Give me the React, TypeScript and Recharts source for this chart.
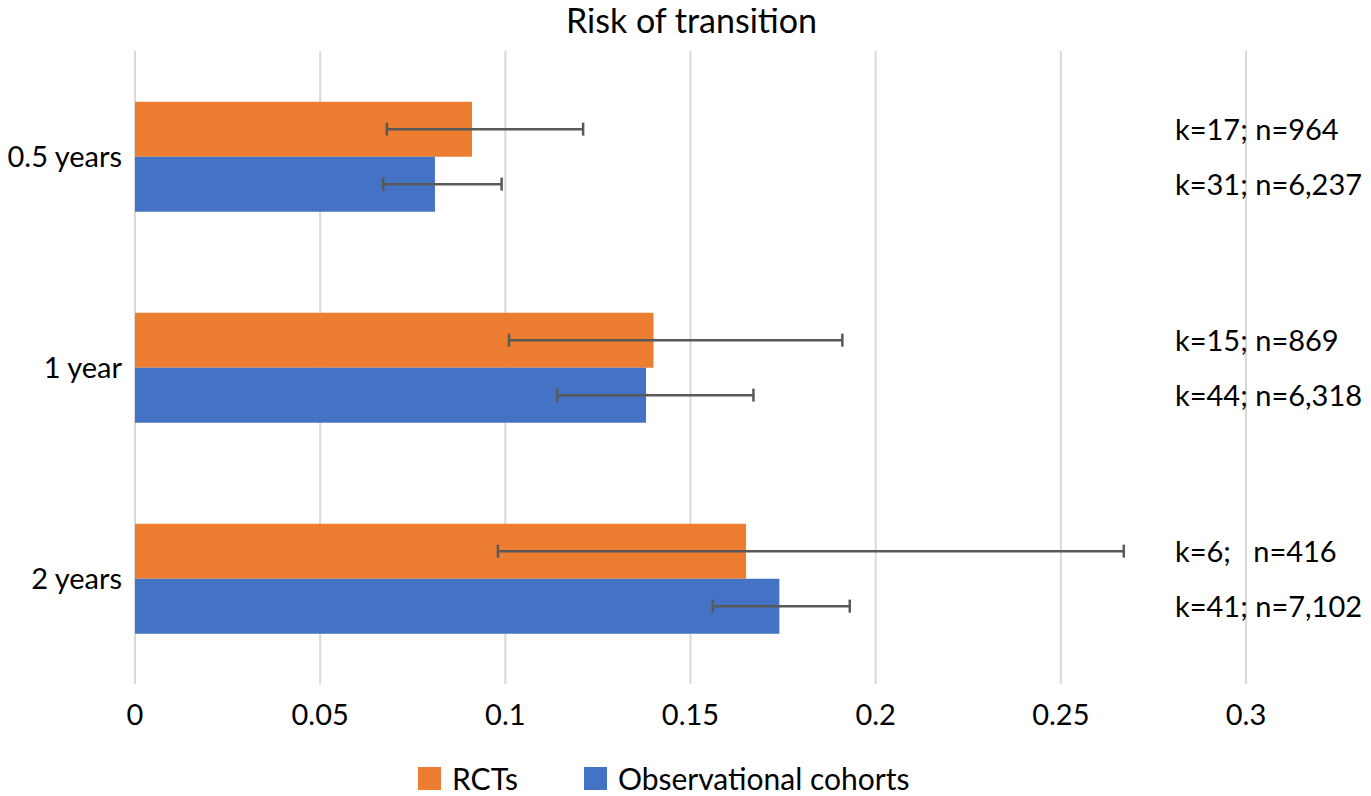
import React from 'react';
import { BarChart, Bar, XAxis, YAxis, CartesianGrid, ErrorBar, LabelList, Legend } from 'recharts';

const categories = ['0.5 years', '1 year', '2 years'];
const rctValues = [0.091, 0.14, 0.165];
const rctLow = [0.068, 0.101, 0.098];
const rctHigh = [0.121, 0.191, 0.267];
const obsValues = [0.081, 0.138, 0.174];
const obsLow = [0.067, 0.114, 0.156];
const obsHigh = [0.099, 0.167, 0.193];
const rctLabels = ['k=17; n=964', 'k=15; n=869', 'k=6;   n=416'];
const obsLabels = ['k=31; n=6,237', 'k=44; n=6,318', 'k=41; n=7,102'];
const xTicks = [0, 0.05, 0.1, 0.15, 0.2, 0.25, 0.3];
const xTickLabels = ['0', '0.05', '0.1', '0.15', '0.2', '0.25', '0.3'];
const legendOrder = ['RCTs', 'Observational cohorts'];

const data = categories.map((c, i) => ({
  period: c,
  rct: rctValues[i],
  rctErr: [rctValues[i] - rctLow[i], rctHigh[i] - rctValues[i]],
  rctLabel: rctLabels[i],
  obs: obsValues[i],
  obsErr: [obsValues[i] - obsLow[i], obsHigh[i] - obsValues[i]],
  obsLabel: obsLabels[i],
}));

const FONT = 'Lato, "Noto Sans", sans-serif';
const W = 1371;
const H = 796;
const LABEL_X = 1175;

const SideLabel = (props: any) => {
  const { y, height, value } = props;
  return (
    <text
      x={LABEL_X}
      y={Number(y) + Number(height) / 2}
      dy="0.36em"
      fontSize={29}
      fontFamily={FONT}
      fill="#000"
      style={{ whiteSpace: 'pre' }}
    >
      {value}
    </text>
  );
};

const LegendContent = (props: any) => {
  const payload = [...(props.payload || [])].sort(
    (a: any, b: any) => legendOrder.indexOf(a.value) - legendOrder.indexOf(b.value)
  );
  return (
    <div
      style={{
        display: 'flex',
        alignItems: 'center',
        height: 62,
        boxSizing: 'border-box',
        paddingTop: 26,
        paddingLeft: 418,
        fontFamily: FONT,
        fontSize: 30,
        color: '#000',
      }}
    >
      {payload.map((p: any, i: number) => (
        <div key={i} style={{ display: 'flex', alignItems: 'center', marginRight: 66 }}>
          <div style={{ width: 23, height: 23, background: p.color, marginRight: 11 }} />
          <span>{p.value}</span>
        </div>
      ))}
    </div>
  );
};

export default function App() {
  return (
    <div style={{ position: 'relative', width: W, height: H, margin: '-8px 0 0 -8px', background: '#fff', overflow: 'hidden' }}>
      <div
        style={{
          position: 'absolute',
          top: 0,
          left: 0,
          width: W,
          paddingLeft: 12,
          boxSizing: 'border-box',
          textAlign: 'center',
          fontFamily: FONT,
          fontSize: 34,
          lineHeight: '40px',
          color: '#000',
        }}
      >
        Risk of transition
      </div>
      <BarChart
        width={W}
        height={H}
        data={data}
        layout="vertical"
        margin={{ top: 51, right: 125, bottom: 0, left: 0 }}
        barCategoryGap="24%"
        barGap={0}
      >
        <CartesianGrid horizontal={false} vertical={true} stroke="#d9d9d9" strokeWidth={2} />
        <XAxis
          type="number"
          domain={[0, 0.3]}
          ticks={xTicks}
          tickFormatter={(v: number) => xTickLabels[xTicks.indexOf(v)] ?? String(v)}
          axisLine={false}
          tickLine={false}
          height={50}
          tickMargin={14}
          tick={{ fontSize: 29, fontFamily: FONT, fill: '#000' }}
          interval={0}
        />
        <YAxis
          type="category"
          dataKey="period"
          width={135}
          axisLine={false}
          tickLine={false}
          tickMargin={7}
          tick={{ fontSize: 29, fontFamily: FONT, fill: '#000' }}
        />
        <Legend verticalAlign="bottom" align="left" content={<LegendContent />} wrapperStyle={{ left: 0, width: W, height: 62 }} />
        <Bar dataKey="rct" name="RCTs" fill="#ED7D31" isAnimationActive={false}>
          <ErrorBar dataKey="rctErr" direction="x" stroke="#595959" strokeWidth={2.5} width={6.5} />
          <LabelList dataKey="rctLabel" content={<SideLabel />} />
        </Bar>
        <Bar dataKey="obs" name="Observational cohorts" fill="#4472C4" isAnimationActive={false}>
          <ErrorBar dataKey="obsErr" direction="x" stroke="#595959" strokeWidth={2.5} width={6.5} />
          <LabelList dataKey="obsLabel" content={<SideLabel />} />
        </Bar>
      </BarChart>
    </div>
  );
}
